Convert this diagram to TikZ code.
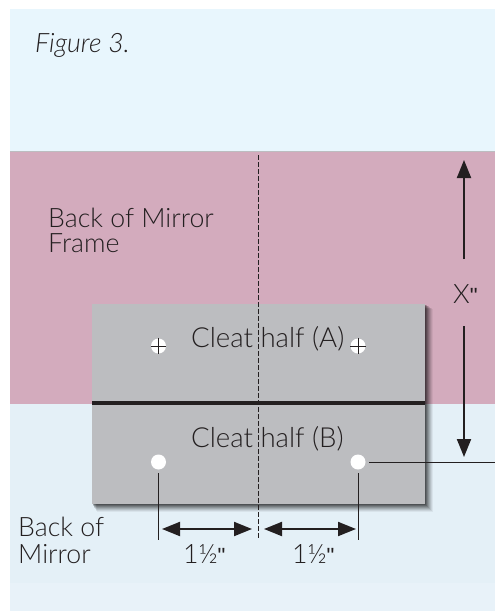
\documentclass[tikz,border=0pt]{standalone}
\usepackage{fontspec}
\setmainfont{Lato Light}
\newfontfamily\quotefont{Liberation Sans}
\newcommand{\inchmark}{{\quotefont\fontsize{22}{22}\selectfont"}}
\usetikzlibrary{arrows.meta}
\definecolor{topblue}{HTML}{E8F6FD}
\definecolor{pinkf}{HTML}{D3ABBD}
\definecolor{lowblue}{HTML}{E4F0F7}
\definecolor{botblue}{HTML}{E8F2F9}
\definecolor{cleatg}{HTML}{BCBDC0}
\definecolor{inkk}{HTML}{231F20}
\tikzset{
  lbl/.style={anchor=base west,inner sep=0pt,text=inkk,font=\fontsize{26.7}{26.7}\selectfont},
  clbl/.style={lbl,font=\fontsize{27.6}{27.6}\selectfont},
  dimline/.style={draw=inkk,line width=1pt},
  dimarrow/.style={draw=inkk,line width=2pt,-{Triangle[length=18pt,width=14pt]}},
  dimboth/.style={draw=inkk,line width=2pt,{Triangle[length=18pt,width=14pt]}-{Triangle[length=18pt,width=14pt]}},
  screwhole/.style={circle,fill=white,minimum size=15pt,inner sep=0pt},
  crossln/.style={draw=inkk,line width=1pt}
}
\begin{document}
\begin{tikzpicture}[x=1pt,y=-1pt]
\useasboundingbox (0,0) rectangle (495,611);
\fill[white] (0,0) rectangle (495,611);
\fill[topblue] (10,9) rectangle (495,151);
\fill[pinkf] (10,151) rectangle (495,404);
\fill[lowblue] (10,404) rectangle (495,583);
\fill[botblue] (10,583) rectangle (495,611);
\draw[color=cleatg,line width=0.7pt] (10,151) -- (495,151);
% soft shadow of the cleat
\foreach \o/\a in {8/0.05,7/0.07,6/0.09,5/0.11,4/0.13,3/0.15,2/0.18,1/0.2}{
  \fill[black,opacity=\a] (92+\o*0.6,304+\o*0.6) rectangle (425+\o,504+\o);
}
\fill[cleatg] (92,304) rectangle (425,504);
\fill[inkk] (92,401.2) rectangle (425,404.8);
% dashed centre line
\coordinate (ctop) at (258,155);
\coordinate (cbot) at (258,540);
\draw[inkk,line width=0.9pt,dash pattern=on 4.5pt off 2.5pt] (ctop) -- (cbot);
% holes
\node[screwhole] (ha) at (158.5,346) {};
\node[screwhole] (hb) at (358,346) {};
\node[screwhole] (hc) at (158.5,462) {};
\node[screwhole] (hd) at (358,462) {};
\draw[crossln] (ha.west) -- (ha.east);
\draw[crossln] (ha.north) -- (ha.south);
\draw[crossln] (hb.west) -- (hb.east);
\draw[crossln] (hb.north) -- (hb.south);
% dimension extension lines
\coordinate (cend) at (158.5,540);
\coordinate (dend) at (358,540);
\coordinate (redge) at (495,462);
\draw[dimline] ([yshift=-3.5pt]hc.south) -- (cend);
\draw[dimline] ([yshift=-3.5pt]hd.south) -- (dend);
\draw[dimline] ([xshift=3.5pt]hd.east) -- (redge);
% X arrows
\coordinate (xup0) at (464,259);
\coordinate (xup1) at (464,160);
\coordinate (xdn0) at (464,326);
\coordinate (xdn1) at (464,457);
\draw[dimarrow] (xup0) -- (xup1);
\draw[dimarrow] (xdn0) -- (xdn1);
% 1 1/2 arrows
\coordinate (la) at (162,529);
\coordinate (lb) at (252,529);
\coordinate (ra) at (264,529);
\coordinate (rb) at (356,529);
\draw[dimboth] (la) -- (lb);
\draw[dimboth] (ra) -- (rb);
% labels
\node[lbl,font=\fontsize{26.7}{26.7}\selectfont\itshape] (fig) at (35,52) {Figure 3.};
\node[lbl] (f1) at (48,227) {Back of Mirror};
\node[lbl] (f2) at (48,252) {Frame};
\node[lbl] (xl) at (453,303) {X\inchmark};
\node[clbl] (ca) at (191,347) {Cleat half (A)};
\node[clbl] (cb) at (191,447) {Cleat half (B)};
\node[lbl] (m1) at (18,536) {Back of};
\node[lbl] (m2) at (18,563) {Mirror};
\node[lbl] (d1) at (183,563) {1½\inchmark};
\node[lbl] (d2) at (292,563) {1½\inchmark};
\end{tikzpicture}
\end{document}
